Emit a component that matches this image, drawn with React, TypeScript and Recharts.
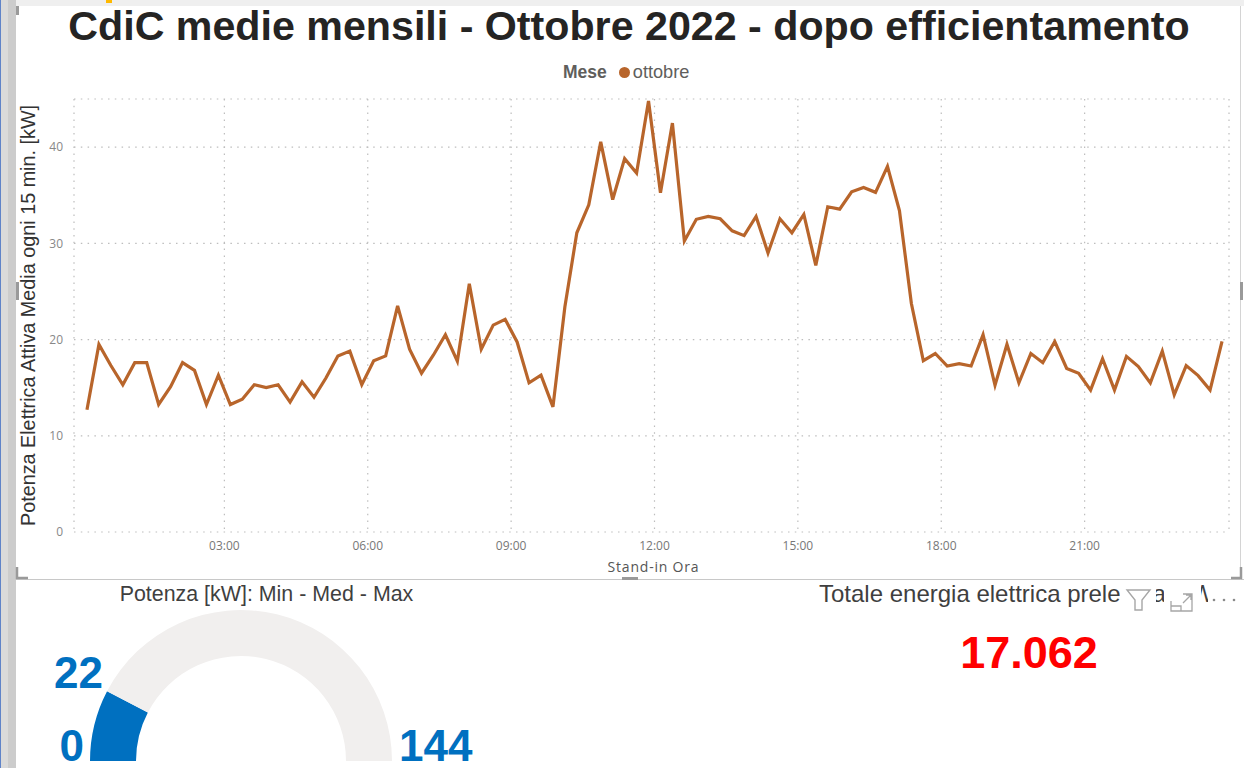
import { LineChart, Line, XAxis, YAxis, CartesianGrid, Legend, PieChart, Pie, Cell } from 'recharts'

// potenza media per quarto d'ora (96 valori)
const potenzaOttobre = [
  12.7, 19.5, 17.3, 15.3, 17.6, 17.6, 13.25, 15.1, 17.6, 16.8, 13.25, 16.3,
  13.25, 13.8, 15.3, 15.0, 15.3, 13.5, 15.6, 14.0, 16.0, 18.3, 18.8, 15.3,
  17.8, 18.3, 23.5, 19.0, 16.5, 18.4, 20.5, 17.75, 25.8, 19.0, 21.5, 22.1,
  19.75, 15.5, 16.3, 13.0, 23.4, 31.1, 34.0, 40.55, 34.55, 38.8, 37.3, 44.8,
  35.25, 42.5, 30.25, 32.5, 32.8, 32.55, 31.3, 30.8, 32.8, 29.0, 32.55, 31.1,
  33.0, 27.7, 33.8, 33.55, 35.35, 35.8, 35.3, 38.0, 33.4, 23.75, 17.8, 18.55,
  17.25, 17.5, 17.25, 20.5, 15.25, 19.5, 15.5, 18.55, 17.6, 19.8, 17.0, 16.5,
  14.75, 18.0, 14.75, 18.25, 17.2, 15.5, 18.8, 14.25, 17.3, 16.25, 14.75, 19.8,
]
const tickMinuti = [180, 360, 540, 720, 900, 1080, 1260]
const tickOre = ['03:00', '06:00', '09:00', '12:00', '15:00', '18:00', '21:00']
const tickPotenza = [0, 10, 20, 30, 40]

const gaugeValore = 22
const gaugeMin = 0
const gaugeMax = 144
const totaleEnergia = '17.062'

// ogni punto sta al centro del suo quarto d'ora
const datiLinea = potenzaOttobre.map((valore, i) => ({ minuti: 7.5 + i * 15, valore }))
const datiGauge = [
  { nome: 'valore', valore: gaugeValore },
  { nome: 'resto', valore: gaugeMax - gaugeValore },
]

const COLORE_LINEA = '#B8652B'
const BLU = '#0070C0'
const ARIAL = '"Liberation Sans", Arial, sans-serif'
const SEGOE = '"Open Sans", sans-serif'

function LegendaMese({ payload }: any) {
  const voce = payload?.[0]
  return (
    <div style={{ display: 'flex', alignItems: 'center', height: 22, fontFamily: ARIAL, fontSize: 17.5, color: '#605E5C', whiteSpace: 'nowrap' }}>
      <span style={{ fontWeight: 700, marginRight: 12 }}>Mese</span>
      <span style={{ width: 11, height: 11, borderRadius: '50%', backgroundColor: voce?.color, marginRight: 3 }} />
      <span style={{ fontSize: 18.2 }}>{voce?.value}</span>
    </div>
  )
}

function Cornice() {
  return (
    <svg width={1244} height={768} style={{ position: 'absolute', left: 0, top: 0, pointerEvents: 'none' }}>
      {/* barre del report */}
      <rect x={0} y={0} width={1244} height={6} fill="#EFEFEF" />
      <rect x={106} y={0} width={6} height={3} fill="#FFB900" />
      <rect x={0} y={0} width={16} height={768} fill="#CCCCCC" />
      <rect x={1} y={0} width={7} height={768} fill="#DADADA" />
      <rect x={0} y={0} width={1} height={768} fill="#5F83C8" />

      {/* cornice del visual */}
      <rect x={16} y={579} width={1228} height={1} fill="#C8C8C8" />
      <rect x={1240} y={6} width={1} height={574} fill="#D4D4D4" />
      <rect x={16} y={6} width={3} height={9} fill="#9A9A9A" />
      <rect x={16} y={282} width={3} height={18} fill="#9A9A9A" />
      <rect x={1240} y={282} width={3} height={18} fill="#9A9A9A" />
      <rect x={622} y={577} width={16} height={3} fill="#9A9A9A" />
      <path d="M17 567 V578 H28" fill="none" stroke="#9A9A9A" strokeWidth={2.5} />
      <path d="M1241 567 V578 H1231" fill="none" stroke="#9A9A9A" strokeWidth={2.5} />

      <text x={629} y={40} textAnchor="middle" fontFamily={ARIAL} fontWeight={700} fontSize={41.2} fill="#252423">
        CdiC medie mensili - Ottobre 2022 - dopo efficientamento
      </text>

      <text x={266.5} y={600.5} textAnchor="middle" fontFamily={ARIAL} fontSize={21.4} fill="#3F3F3F">
        Potenza [kW]: Min - Med - Max
      </text>
      <text x={103} y={688} textAnchor="end" fontFamily={ARIAL} fontWeight={700} fontSize={44} fill={BLU}>{gaugeValore}</text>
      <text x={84} y={761} textAnchor="end" fontFamily={ARIAL} fontWeight={700} fontSize={44} fill={BLU}>{gaugeMin}</text>
      <text x={399} y={761} fontFamily={ARIAL} fontWeight={700} fontSize={44} fill={BLU}>{gaugeMax}</text>

      <text x={819} y={601.5} fontFamily={ARIAL} fontSize={24} fill="#3F3F3F">
        Totale energia elettrica prelevata [kWh]
      </text>
      <rect x={1120} y={582} width={36} height={34} fill="#FFFFFF" />
      <rect x={1164} y={582} width={37} height={34} fill="#FFFFFF" />
      <rect x={1208} y={582} width={36} height={34} fill="#FFFFFF" />
      <path d="M1127 590 H1150 L1142 600 V610 H1135 V600 Z" fill="none" stroke="#A6A6A6" strokeWidth={1.4} />
      <path d="M1171 601 V611 H1192 V594 H1183 M1171 606 H1181 V611 M1183 603 L1191 595 M1186 595 H1191 V600" fill="none" stroke="#A6A6A6" strokeWidth={1.3} />
      <circle cx={1214} cy={600} r={1.3} fill="#8A8A8A" />
      <circle cx={1224} cy={600} r={1.3} fill="#8A8A8A" />
      <circle cx={1234} cy={600} r={1.3} fill="#8A8A8A" />

      <text x={1029} y={668} textAnchor="middle" fontFamily={ARIAL} fontWeight={700} fontSize={45} fill="#FF0000">
        {totaleEnergia}
      </text>
    </svg>
  )
}

export default function App() {
  return (
    <div style={{ position: 'absolute', left: 0, top: 0, width: 1244, height: 768, overflow: 'hidden', backgroundColor: '#FFFFFF' }}>
      <div style={{ position: 'absolute', left: 0, top: 0 }}>
        <LineChart width={1244} height={580} data={datiLinea} margin={{ top: 99, right: 15, bottom: 0, left: 0 }}>
          <CartesianGrid stroke="#BDBDBD" strokeWidth={1.2} strokeDasharray="1.5 5.3" />
          <XAxis
            dataKey="minuti"
            type="number"
            domain={[0, 1440]}
            ticks={tickMinuti}
            tickFormatter={(m: number) => tickOre[tickMinuti.indexOf(m)]}
            padding={{ left: 7, right: 1 }}
            height={48}
            axisLine={false}
            tickLine={false}
            tickSize={0}
            tickMargin={9}
            tick={{ fontSize: 12, fontFamily: SEGOE, fill: '#777777' }}
            label={{ value: 'Stand-in Ora', position: 'insideBottom', offset: 8, dx: 2, fontSize: 14, letterSpacing: 0.8, fontFamily: SEGOE, fill: '#555555' }}
          />
          <YAxis
            type="number"
            domain={[0, 45]}
            ticks={tickPotenza}
            width={74}
            axisLine={false}
            tickLine={false}
            tickSize={0}
            tickMargin={11}
            tick={{ fontSize: 12, fontFamily: SEGOE, fill: '#888888' }}
            label={{ value: 'Potenza Elettrica Attiva Media ogni 15 min. [kW]', angle: -90, position: 'insideLeft', offset: 28, fontSize: 19.8, fontFamily: ARIAL, fill: '#333333', style: { textAnchor: 'middle' } }}
          />
          <Legend
            verticalAlign="middle"
            align="center"
            content={<LegendaMese />}
            wrapperStyle={{ left: 563, top: 61, width: 140, height: 22 }}
          />
          <Line
            type="linear"
            dataKey="valore"
            name="ottobre"
            stroke={COLORE_LINEA}
            strokeWidth={3.2}
            dot={false}
            isAnimationActive={false}
          />
        </LineChart>
      </div>
      <div style={{ position: 'absolute', left: 0, top: 580 }}>
        <PieChart width={500} height={188} margin={{ top: 0, right: 0, bottom: 0, left: 0 }}>
          <Pie
            data={datiGauge}
            dataKey="valore"
            nameKey="nome"
            cx={241}
            cy={181}
            startAngle={180}
            endAngle={0}
            innerRadius={105}
            outerRadius={151}
            stroke="none"
            isAnimationActive={false}
          >
            <Cell fill={BLU} />
            <Cell fill="#F1EFEE" />
          </Pie>
        </PieChart>
      </div>
      <Cornice />
    </div>
  )
}
